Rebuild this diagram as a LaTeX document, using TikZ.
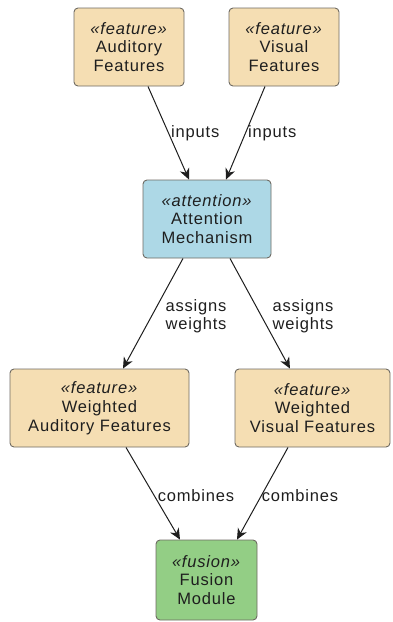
\documentclass[tikz,border=0pt]{standalone}
\usepackage{fontspec}
\setmainfont{Liberation Sans}[LetterSpace=5]
\usetikzlibrary{arrows.meta}
\definecolor{featfill}{HTML}{F5DEB3}
\definecolor{attfill}{HTML}{ADD8E6}
\definecolor{fusfill}{HTML}{93CE85}
\definecolor{boxline}{HTML}{6E6A62}
\definecolor{ink}{HTML}{1E1E1E}
\begin{document}
\begin{tikzpicture}[x=1pt,y=-1pt,
  box/.style={draw=boxline, line width=0.9pt, rounded corners=4pt, align=center,
    minimum height=78pt, inner sep=0pt, text=ink,
    font=\fontsize{16.5}{18.8}\selectfont},
  feat/.style={box, fill=featfill},
  att/.style={box, fill=attfill},
  fus/.style={box, fill=fusfill},
  conn/.style={draw=ink, line width=1pt,
    -{Stealth[length=11pt,width=10pt,inset=3.5pt]}},
  lbl/.style={text=ink, align=center, inner sep=0pt,
    font=\fontsize{16.5}{18}\selectfont}]
  \useasboundingbox (0,0) rectangle (392,622);

  % source features
  \node[feat, minimum width=110pt] (aud) at (129,47)
    {\textit{«feature»}\\Auditory\\Features};
  \node[feat, minimum width=110pt] (vis) at (284,47)
    {\textit{«feature»}\\Visual\\Features};

  % attention stage
  \node[att, minimum width=128pt] (att) at (207,219)
    {\textit{«attention»}\\Attention\\Mechanism};

  % weighted features
  \node[feat, minimum width=179pt] (wau) at (99.5,408)
    {\textit{«feature»}\\Weighted\\Auditory Features};
  \node[feat, minimum width=155pt] (wvi) at (312.5,408)
    {\textit{«feature»}\\Weighted\\Visual Features};

  % fusion
  \node[fus, minimum width=101pt, minimum height=80pt] (fus) at (206.5,580)
    {\textit{«fusion»}\\Fusion\\Module};

  % connectors
  \draw[conn] ([xshift=19pt]aud.south) -- ([xshift=-18pt]att.north);
  \draw[conn] ([xshift=-19pt]vis.south) -- ([xshift=19pt]att.north);
  \draw[conn] ([xshift=-24pt]att.south) -- ([xshift=23.5pt]wau.north);
  \draw[conn] ([xshift=23pt]att.south) -- ([xshift=-22.5pt]wvi.north);
  \draw[conn] ([xshift=26.5pt]wau.south) -- ([xshift=-26.5pt]fus.north);
  \draw[conn] ([xshift=-24.5pt]wvi.south) -- ([xshift=30.5pt]fus.north);

  % connector labels
  \node[lbl, anchor=west] (l1) at (171,133) {inputs};
  \node[lbl, anchor=west] (l2) at (248,133) {inputs};
  \node[lbl] (l3) at (196,316) {assigns\\weights};
  \node[lbl] (l4) at (303,316) {assigns\\weights};
  \node[lbl] (l5) at (196,496) {combines};
  \node[lbl] (l6) at (300,496) {combines};
\end{tikzpicture}
\end{document}
